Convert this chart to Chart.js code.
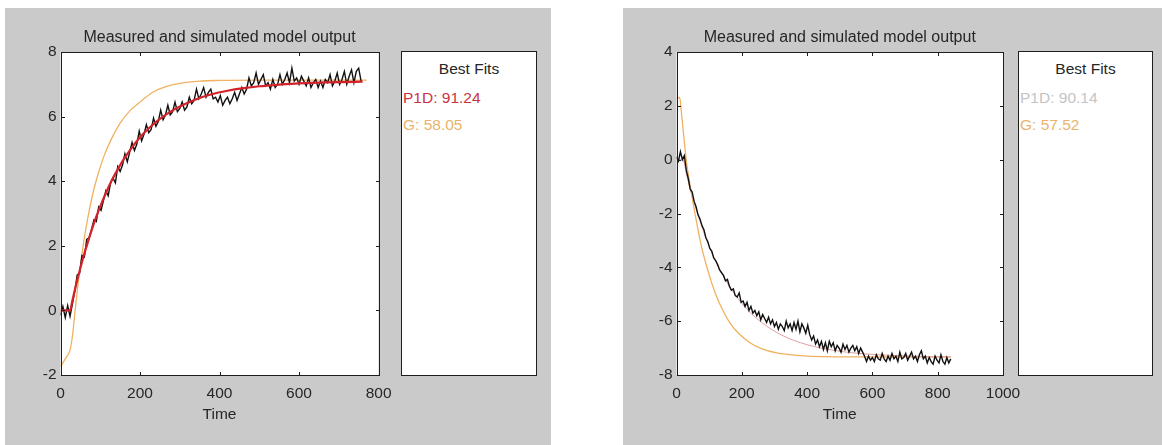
<!DOCTYPE html>
<html>
<head>
<meta charset="utf-8">
<script src="https://cdn.jsdelivr.net/npm/chart.js@4"></script>
<style>
  html, body { margin:0; padding:0; background:#fff; }
  body { width:1162px; height:445px; position:relative; overflow:hidden;
         font-family:"Liberation Sans", Arial, sans-serif; color:#262626; }
  .panel { position:absolute; top:8px; height:437px; background:#cacaca; }
  .plot { position:absolute; top:8px; height:437px; }
  .fits { position:absolute; top:51px; height:325px; box-sizing:border-box;
          border:1px solid #1e1e1e; background:#fff; }
  .fits .head { position:absolute; left:0; right:0; top:8px; text-align:center; font-size:15.5px; line-height:18px; }
  .fits .row { position:absolute; left:1px; font-size:15.5px; line-height:18px; white-space:nowrap; }
</style>
</head>
<body>
<div class="panel" style="left:5px;width:546px"></div>
<div class="panel" style="left:623px;width:539px"></div>

<div class="plot" style="left:6px;width:395px"><canvas id="leftChart" width="395" height="437"></canvas></div>
<div class="plot" style="left:624px;width:406px"><canvas id="rightChart" width="406" height="437"></canvas></div>

<div class="fits" style="left:401px;width:136px">
  <div class="head">Best Fits</div>
  <div class="row" id="leftFit1" style="top:37px"></div>
  <div class="row" id="leftFit2" style="top:64px"></div>
</div>
<div class="fits" style="left:1018px;width:135px">
  <div class="head">Best Fits</div>
  <div class="row" id="rightFit1" style="top:37px"></div>
  <div class="row" id="rightFit2" style="top:64px"></div>
</div>

<script>
// ---- data ----
const TITLE = "Measured and simulated model output";
const X_LABEL = "Time";

// left experiment
const LEFT_X_TICKS = [0, 200, 400, 600, 800];
const LEFT_Y_TICKS = [-2, 0, 2, 4, 6, 8];
const LEFT_MEAS_STEP = 6; // sampling of the measured trace (time units)
const LEFT_MEAS = [
  -0.15, 0.12, -0.22, 0.15, -0.18, 0.2, 0.6, 1.1, 1.15, 1.7,
  1.65, 2.2, 2.25, 2.5, 2.8, 2.75, 3.2, 3.1, 3.4, 3.7,
  3.55, 3.95, 4.1, 3.95, 4.45, 4.3, 4.5, 4.85, 4.6, 4.9,
  5.2, 4.95, 5.15, 5.55, 5.25, 5.45, 5.75, 5.5, 5.6, 5.95,
  5.7, 5.85, 6.2, 5.9, 6.05, 6.35, 6.05, 6.15, 6.45, 6.15,
  6.25, 6.45, 6.2, 6.3, 6.6, 6.4, 6.5, 6.85, 6.55, 6.7,
  6.9, 6.6, 6.75, 6.85, 6.55, 6.6, 6.45, 6.65, 6.35, 6.5,
  6.6, 6.4, 6.55, 6.75, 6.5, 6.7, 6.9, 6.7, 6.85, 7.2,
  6.95, 7.05, 7.35, 7.0, 7.15, 7.3, 6.95, 7.05, 6.85, 7.15,
  6.9, 7.0, 7.3, 7.0, 7.15, 7.35, 7.05, 7.5, 7.1, 7.2,
  7.0, 7.25, 7.1, 6.95, 7.2, 6.9, 7.05, 7.15, 6.9, 7.1,
  6.9, 7.15, 7.05, 7.3, 6.95, 7.1, 7.35, 7.0, 7.15, 7.4,
  7.0, 7.25, 7.45, 7.05, 7.4, 7.5, 7.1
];
const LEFT_P1D_T = [0, 24, 30, 40, 50, 60, 70, 80, 90, 100, 115, 130, 145, 160, 180, 200, 225, 250, 275, 300, 340, 380, 420, 460, 500, 550, 600, 650, 700, 760];
const LEFT_P1D   = [0, 0, 0.31, 0.83, 1.31, 1.76, 2.16, 2.55, 2.9, 3.22, 3.66, 4.05, 4.39, 4.7, 5.05, 5.36, 5.67, 5.93, 6.14, 6.31, 6.53, 6.69, 6.8, 6.88, 6.94, 6.99, 7.03, 7.05, 7.07, 7.08];
const LEFT_G_T = [0, 12, 24, 30, 36, 44, 52, 60, 70, 82, 94, 110, 127, 150, 176, 205, 234, 265, 300, 350, 400, 500, 600, 770];
const LEFT_G   = [-1.75, -1.5, -1.22, -0.8, -0.1, 0.8, 1.55, 2.25, 2.95, 3.65, 4.2, 4.8, 5.28, 5.8, 6.2, 6.5, 6.77, 6.93, 7.03, 7.1, 7.12, 7.13, 7.13, 7.13];
const LEFT_FITS = [["P1D", "91.24"], ["G", "58.05"]];

// right experiment
const RIGHT_X_TICKS = [0, 200, 400, 600, 800, 1000];
const RIGHT_Y_TICKS = [-8, -6, -4, -2, 0, 2, 4];
const RIGHT_MEAS_STEP = 6;
const RIGHT_MEAS = [
  0.1, -0.05, 0.3, 0.0, 0.15, -0.4, -0.7, -1.1, -1.2, -1.55,
  -1.75, -2.05, -2.2, -2.45, -2.6, -2.9, -3.05, -3.3, -3.4, -3.65,
  -3.75, -3.9, -4.1, -4.2, -4.3, -4.5, -4.45, -4.7, -4.85, -4.8,
  -5.05, -5.1, -4.95, -5.3, -5.25, -5.45, -5.3, -5.6, -5.45, -5.7,
  -5.6, -5.8, -5.65, -5.95, -5.75, -5.9, -6.05, -5.85, -6.1, -5.95,
  -6.2, -6.05, -6.3, -6.1, -6.2, -6.35, -6.0, -6.25, -6.1, -6.35,
  -6.05, -6.3, -6.0, -6.4, -6.1, -6.25, -6.45, -6.15, -6.5, -6.7,
  -6.55, -6.85, -6.7, -6.95, -6.75, -7.05, -6.8, -7.1, -6.75, -6.95,
  -6.8, -7.1, -6.9, -7.0, -7.15, -6.85, -7.05, -6.9, -7.15, -7.0,
  -6.9, -7.1, -6.95, -7.2, -7.0, -7.15, -7.3, -7.5, -7.3, -7.45,
  -7.35, -7.5, -7.25, -7.4, -7.45, -7.2, -7.4, -7.5, -7.3, -7.45,
  -7.2, -7.4, -7.3, -7.5, -7.15, -7.4, -7.35, -7.2, -7.45, -7.3,
  -7.15, -7.4, -7.3, -7.5, -7.25, -7.1, -7.4, -7.3, -7.55, -7.35,
  -7.5, -7.6, -7.3, -7.45, -7.55, -7.25, -7.5, -7.6, -7.35, -7.55,
  -7.4
];
const RIGHT_P1D_T = [0, 20, 30, 40, 50, 60, 75, 90, 110, 130, 150, 175, 200, 230, 260, 300, 340, 380, 420, 470, 520, 580, 640, 700, 770, 840];
const RIGHT_P1D   = [0, 0, -0.51, -0.98, -1.42, -1.84, -2.4, -2.91, -3.51, -4.02, -4.47, -4.94, -5.34, -5.73, -6.04, -6.37, -6.62, -6.8, -6.94, -7.06, -7.15, -7.22, -7.26, -7.29, -7.32, -7.33];
const RIGHT_G_T = [0, 10, 15, 20, 25, 31, 41, 52, 62, 72, 82, 92, 107, 123, 143, 164, 190, 225, 260, 307, 378, 450, 600, 840];
const RIGHT_G   = [2.3, 2.3, 1.75, 1.15, 0.55, -0.13, -0.9, -1.7, -2.35, -2.98, -3.5, -3.95, -4.55, -5.09, -5.62, -6.07, -6.45, -6.8, -7.02, -7.18, -7.28, -7.32, -7.33, -7.33];
const RIGHT_FITS = [["P1D", "90.14"], ["G", "57.52"]];

// ---- styling ----
const FONT = "'Liberation Sans', Arial, sans-serif";
const TEXT = "#262626";

const toPoints = (xs, ys) => ys.map((v, i) => ({ x: xs[i], y: v }));
const sampled = (step, ys) => ys.map((v, i) => ({ x: i * step, y: v }));

const frame = {
  id: "frame",
  beforeDatasetsDraw(chart) {
    const { ctx, chartArea: a } = chart;
    ctx.save();
    ctx.fillStyle = "#fff";
    ctx.fillRect(a.left, a.top, a.right - a.left, a.bottom - a.top);
    ctx.restore();
  },
  afterDatasetsDraw(chart) {
    const { ctx, chartArea: a, scales: { x, y } } = chart;
    const L = Math.round(a.left) + 0.5, R = Math.round(a.right) + 0.5;
    const T = Math.round(a.top) + 0.5, B = Math.round(a.bottom) + 0.5;
    const len = 3.5;
    ctx.save();
    ctx.strokeStyle = "#1e1e1e";
    ctx.lineWidth = 1;
    ctx.beginPath();
    x.ticks.forEach(t => {
      const px = Math.round(x.getPixelForValue(t.value)) + 0.5;
      ctx.moveTo(px, B); ctx.lineTo(px, B - len);
      ctx.moveTo(px, T); ctx.lineTo(px, T + len);
    });
    y.ticks.forEach(t => {
      const py = Math.round(y.getPixelForValue(t.value)) + 0.5;
      ctx.moveTo(L, py); ctx.lineTo(L + len, py);
      ctx.moveTo(R, py); ctx.lineTo(R - len, py);
    });
    ctx.stroke();
    ctx.strokeRect(L, T, R - L, B - T);
    ctx.restore();
  }
};

function makeChart(id, cfg) {
  const order = cfg.p1dOnTop
    ? [cfg.p1d, cfg.meas, cfg.g]
    : [cfg.meas, cfg.p1d, cfg.g];
  return new Chart(document.getElementById(id), {
    type: "line",
    data: { datasets: order },
    plugins: [frame],
    options: {
      responsive: false,
      animation: false,
      events: [],
      layout: { padding: { top: 0, right: cfg.padRight, bottom: 0, left: 0 } },
      elements: { point: { radius: 0 } },
      plugins: {
        legend: { display: false },
        tooltip: { enabled: false },
        title: {
          display: true, text: TITLE, color: TEXT, fullSize: false,
          font: { family: FONT, size: 16, weight: "normal", lineHeight: 1.2 },
          padding: { top: 20.4, bottom: 4.4 }
        }
      },
      scales: {
        x: {
          type: "linear", min: cfg.xTicks[0], max: cfg.xTicks[cfg.xTicks.length - 1],
          afterBuildTicks: s => { s.ticks = cfg.xTicks.map(v => ({ value: v })); },
          afterFit: s => { s.height = 70; },
          grid: { display: false, drawTicks: false },
          border: { display: false },
          ticks: { color: TEXT, padding: 9.5, maxRotation: 0, autoSkip: false,
                   callback: v => String(v),
                   font: { family: FONT, size: 15.5 } },
          title: { display: true, text: X_LABEL, color: TEXT,
                   font: { family: FONT, size: 15.5, lineHeight: 1.2 },
                   padding: { top: 0, bottom: 20.7 } }
        },
        y: {
          type: "linear", min: cfg.yTicks[0], max: cfg.yTicks[cfg.yTicks.length - 1],
          afterBuildTicks: s => { s.ticks = cfg.yTicks.map(v => ({ value: v })); },
          afterFit: s => { s.width = cfg.yWidth; },
          grid: { display: false, drawTicks: false },
          border: { display: false },
          ticks: { color: TEXT, padding: 4, autoSkip: false,
                   callback: v => String(v),
                   font: { family: FONT, size: 15.5 } }
        }
      }
    }
  });
}

makeChart("leftChart", {
  xTicks: LEFT_X_TICKS, yTicks: LEFT_Y_TICKS, yWidth: 54.5, padRight: 16, p1dOnTop: true,
  meas: { data: sampled(LEFT_MEAS_STEP, LEFT_MEAS), borderColor: "#111", borderWidth: 1.4 },
  p1d: { data: toPoints(LEFT_P1D_T, LEFT_P1D), borderColor: "#d4222a", borderWidth: 2.2, cubicInterpolationMode: "monotone" },
  g: { data: toPoints(LEFT_G_T, LEFT_G), borderColor: "#f0b160", borderWidth: 1.3, cubicInterpolationMode: "monotone" }
});

makeChart("rightChart", {
  xTicks: RIGHT_X_TICKS, yTicks: RIGHT_Y_TICKS, yWidth: 52.5, padRight: 27, p1dOnTop: false,
  meas: { data: sampled(RIGHT_MEAS_STEP, RIGHT_MEAS), borderColor: "#111", borderWidth: 1.4 },
  p1d: { data: toPoints(RIGHT_P1D_T, RIGHT_P1D), borderColor: "#e0a0a0", borderWidth: 1, cubicInterpolationMode: "monotone" },
  g: { data: toPoints(RIGHT_G_T, RIGHT_G), borderColor: "#f0b160", borderWidth: 1.3, cubicInterpolationMode: "monotone" }
});

// best fit listings
const fitColors = { left: ["#cc3340", "#e8b46c"], right: ["#c4c4c4", "#e8b46c"] };
LEFT_FITS.forEach((f, i) => {
  const el = document.getElementById("leftFit" + (i + 1));
  el.textContent = f[0] + ": " + f[1];
  el.style.color = fitColors.left[i];
});
RIGHT_FITS.forEach((f, i) => {
  const el = document.getElementById("rightFit" + (i + 1));
  el.textContent = f[0] + ": " + f[1];
  el.style.color = fitColors.right[i];
});
</script>
</body>
</html>
